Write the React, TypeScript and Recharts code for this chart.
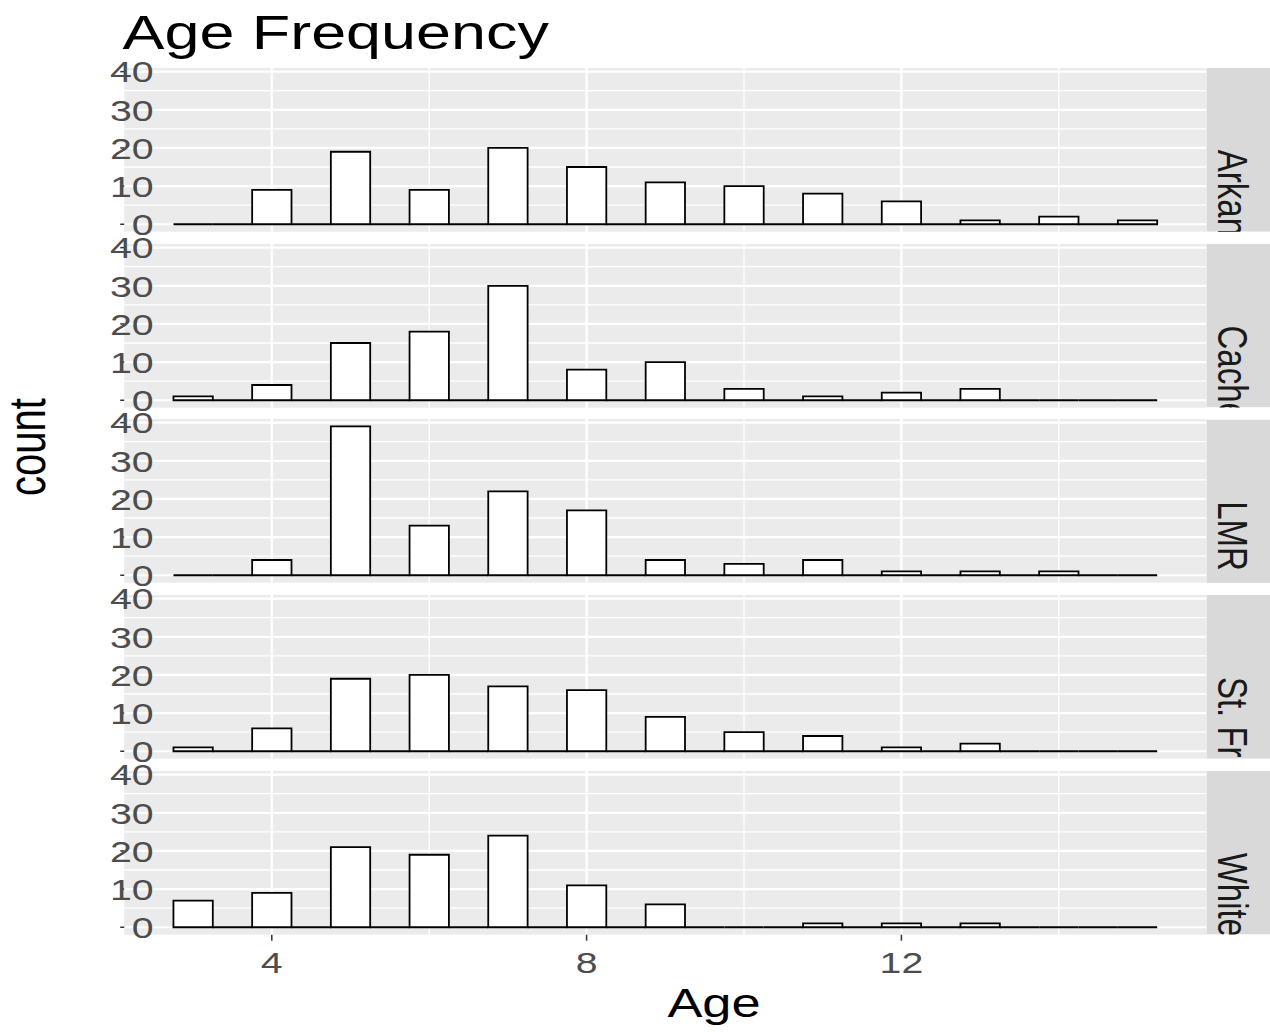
import React from "react";
import { ComposedChart, Bar, XAxis, YAxis, CartesianGrid } from "recharts";

// histogram bins (binwidth 0.5), one count array per river facet
const BIN_AGES = [3, 3.5, 4, 4.5, 5, 5.5, 6, 6.5, 7, 7.5, 8, 8.5, 9, 9.5, 10, 10.5, 11, 11.5, 12, 12.5, 13, 13.5, 14, 14.5, 15];

const RIVERS = ["Arkansas", "Cache", "LMR", "St. Francis", "White"];

const arkansasCounts = [0, 0, 9, 0, 19, 0, 9, 0, 20, 0, 15, 0, 11, 0, 10, 0, 8, 0, 6, 0, 1, 0, 2, 0, 1];
const cacheCounts = [1, 0, 4, 0, 15, 0, 18, 0, 30, 0, 8, 0, 10, 0, 3, 0, 1, 0, 2, 0, 3, 0, 0, 0, 0];
const lmrCounts = [0, 0, 4, 0, 39, 0, 13, 0, 22, 0, 17, 0, 4, 0, 3, 0, 4, 0, 1, 0, 1, 0, 1, 0, 0];
const stFrancisCounts = [1, 0, 6, 0, 19, 0, 20, 0, 17, 0, 16, 0, 9, 0, 5, 0, 4, 0, 1, 0, 2, 0, 0, 0, 0];
const whiteCounts = [7, 0, 9, 0, 21, 0, 19, 0, 24, 0, 11, 0, 6, 0, 0, 0, 1, 0, 1, 0, 1, 0, 0, 0, 0];

const COUNTS = [arkansasCounts, cacheCounts, lmrCounts, stFrancisCounts, whiteCounts];

const X_TICKS = [4, 8, 12];
const X_MINOR = [6, 10, 14];
const Y_TICKS = [0, 10, 20, 30, 40];
const Y_MINOR = [5, 15, 25, 35];
const X_DOMAIN: [number, number] = [2.125, 15.875];
const Y_DOMAIN: [number, number] = [-1.95, 40.95];
const BINWIDTH = 0.5;

// layout
const CHART_W = 1270;
const CHART_H = 1032;
const PLOT_LEFT = 124.2;
const PLOT_RIGHT = 1206.4;
const PANEL_TOP = 68;
const PANEL_PITCH = 175.7;
const PANEL_H = 163.7;
const PAD = 16; // room above/below each panel so tick text is not clipped
const LABEL_RIGHT = 153.6;
const X_TICK_BASELINE = 973;
const BAR_PX = (BINWIDTH * (PLOT_RIGHT - PLOT_LEFT)) / (X_DOMAIN[1] - X_DOMAIN[0]);

// text is drawn wide, as in the exported figure
const SX = 1.31;
const FONT = "'Liberation Sans', Arial, Helvetica, sans-serif";
const TICK_FS = 30;

// full-width histogram bin centred on the bar position recharts gives;
// empty bins still draw their outline, which forms the baseline
const HistBar = (p: any) => {
  const { x, y, width, height } = p;
  const left = x + width / 2 - BAR_PX / 2;
  return (
    <path
      d={`M${left},${y}h${BAR_PX}v${height}h${-BAR_PX}Z`}
      fill="#FFFFFF"
      stroke="#000000"
      strokeWidth={1.8}
    />
  );
};

const YTick = (p: any) => {
  const { y, payload } = p;
  return (
    <text
      transform={`translate(${LABEL_RIGHT},${y + 0.358 * TICK_FS}) scale(${SX},1)`}
      textAnchor="end"
      fontSize={TICK_FS}
      fontFamily={FONT}
      fill="#4D4D4D"
    >
      {payload.value}
    </text>
  );
};

const XTick = (p: any) => {
  const { x, payload, chartTop } = p;
  return (
    <text
      transform={`translate(${x},${X_TICK_BASELINE - chartTop}) scale(${SX},1)`}
      textAnchor="middle"
      fontSize={TICK_FS}
      fontFamily={FONT}
      fill="#4D4D4D"
    >
      {payload.value}
    </text>
  );
};

function Panel({ index, counts }: { index: number; counts: number[] }) {
  const last = index === RIVERS.length - 1;
  const top = PANEL_TOP + index * PANEL_PITCH;
  const chartTop = top - PAD;
  const axisH = last ? CHART_H - (top + PANEL_H) : 0;
  const rows = BIN_AGES.map((age, i) => ({ age, n: counts[i] }));

  return (
    <div style={{ position: "absolute", left: 0, top: chartTop }}>
      <ComposedChart
        width={CHART_W}
        height={PANEL_H + axisH + PAD + (last ? 0 : PAD)}
        data={rows}
        margin={{ top: PAD, right: CHART_W - PLOT_RIGHT, bottom: last ? 0 : PAD, left: 0 }}
      >
        <CartesianGrid
          fill="#EBEBEB"
          fillOpacity={1}
          stroke="#FFFFFF"
          strokeWidth={1.3}
          horizontalValues={Y_MINOR}
          verticalValues={X_MINOR}
        />
        <CartesianGrid
          stroke="#FFFFFF"
          strokeWidth={2.2}
          horizontalValues={Y_TICKS}
          verticalValues={X_TICKS}
        />
        <XAxis
          type="number"
          dataKey="age"
          domain={X_DOMAIN}
          allowDataOverflow
          ticks={X_TICKS}
          interval={0}
          hide={!last}
          height={last ? axisH : 0}
          axisLine={false}
          tickSize={6}
          tickLine={{ stroke: "#333333", strokeWidth: 1.5 }}
          tick={(props: any) => <XTick {...props} chartTop={chartTop} />}
        />
        <YAxis
          type="number"
          domain={Y_DOMAIN}
          allowDataOverflow
          ticks={Y_TICKS}
          interval={0}
          width={PLOT_LEFT}
          axisLine={false}
          tickSize={4}
          tickLine={{ stroke: "#333333", strokeWidth: 1.5 }}
          tick={<YTick />}
        />
        <Bar dataKey="n" barSize={BAR_PX} isAnimationActive={false} shape={HistBar} />
      </ComposedChart>
    </div>
  );
}

export default function App() {
  return (
    <div
      style={{
        position: "absolute",
        left: 0,
        top: 0,
        width: CHART_W,
        height: CHART_H,
        background: "#FFFFFF",
        overflow: "hidden",
      }}
    >
      {RIVERS.map((r, i) => (
        <Panel key={r} index={i} counts={COUNTS[i]} />
      ))}

      <svg
        width={CHART_W}
        height={CHART_H}
        style={{ position: "absolute", left: 0, top: 0, pointerEvents: "none" }}
      >
        <defs>
          {RIVERS.map((r, i) => (
            <clipPath id={`strip-${i}`} key={r}>
              <rect x={PLOT_RIGHT} y={PANEL_TOP + i * PANEL_PITCH} width={CHART_W - PLOT_RIGHT} height={PANEL_H} />
            </clipPath>
          ))}
        </defs>

        <text
          transform={`translate(122.5,49) scale(${SX},1)`}
          fontSize={48}
          fontFamily={FONT}
          fill="#000000"
        >
          Age Frequency
        </text>

        <text
          transform={`translate(714,1017) scale(${SX},1)`}
          textAnchor="middle"
          fontSize={40}
          fontFamily={FONT}
          fill="#000000"
        >
          Age
        </text>

        <text
          transform={`translate(45,447) scale(${SX},1) rotate(-90)`}
          textAnchor="middle"
          fontSize={40}
          fontFamily={FONT}
          fill="#000000"
        >
          count
        </text>

        {RIVERS.map((r, i) => {
          const top = PANEL_TOP + i * PANEL_PITCH;
          return (
            <g key={r} clipPath={`url(#strip-${i})`}>
              <rect x={PLOT_RIGHT} y={top} width={CHART_W - PLOT_RIGHT} height={PANEL_H} fill="#D9D9D9" />
              <text
                transform={`translate(1218,${top + PANEL_H / 2}) scale(${SX},1) rotate(90)`}
                fontSize={33}
                fontFamily={FONT}
                fill="#1A1A1A"
              >
                {r}
              </text>
            </g>
          );
        })}
      </svg>
    </div>
  );
}
